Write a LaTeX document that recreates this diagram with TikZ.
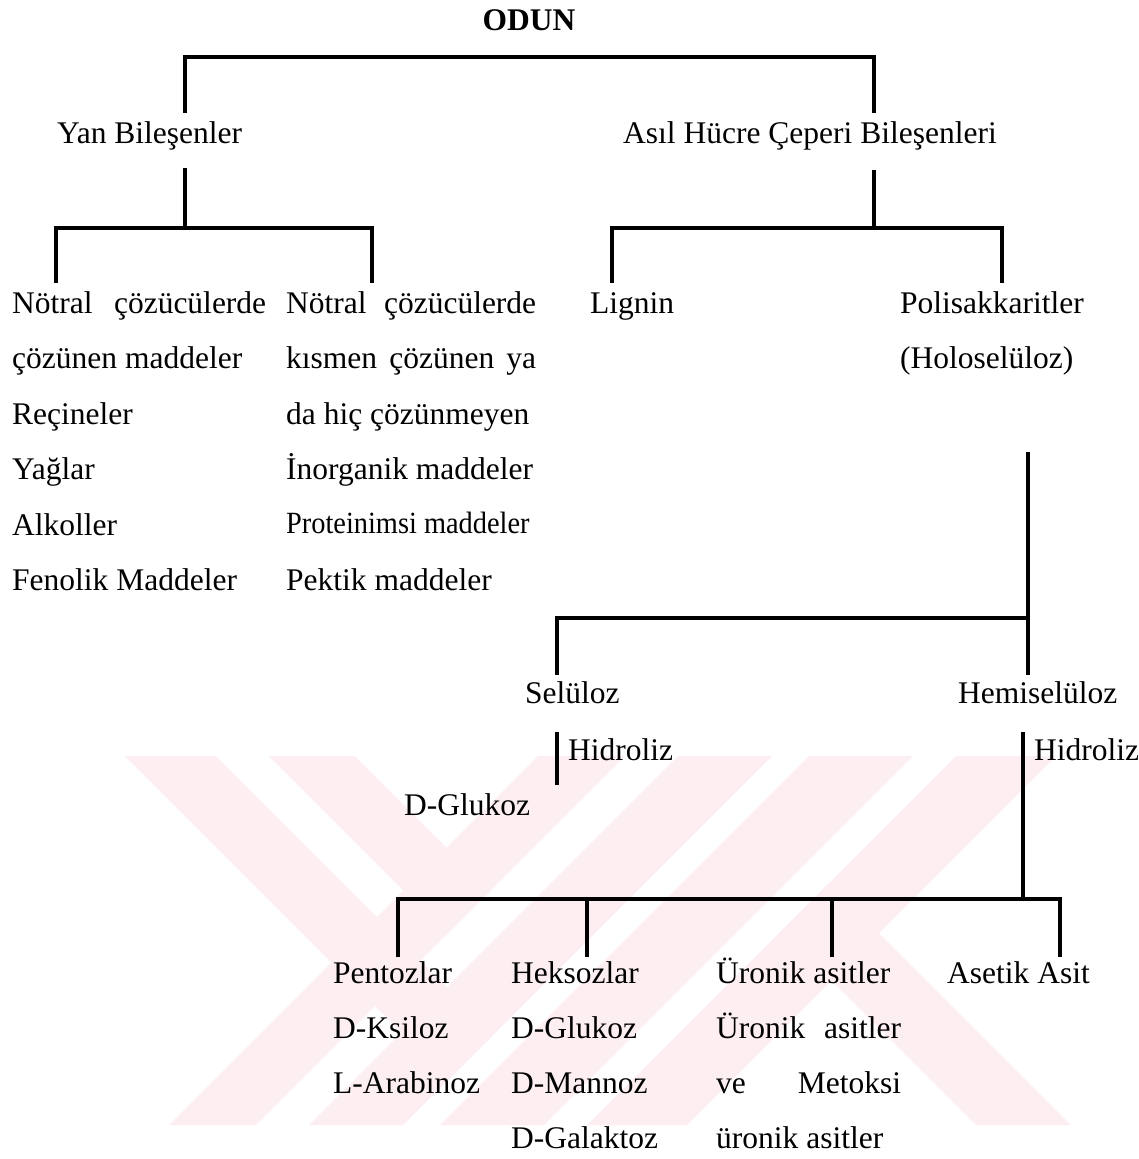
\documentclass[tikz,border=0pt]{standalone}
\usepackage{fontspec}
\setmainfont{Liberation Serif}
\newcommand\lblfont{\fontsize{31.5}{36}\selectfont}
\definecolor{wmpink}{RGB}{253,238,241}
\begin{document}
\begin{tikzpicture}[x=1pt,y=-1pt,
  lbl/.style={anchor=base west, inner sep=0pt, font=\lblfont},
  ttl/.style={anchor=base, inner sep=0pt, font=\lblfont\bfseries},
  ln/.style={line width=4.2pt},
  lnthin/.style={line width=3.4pt}]
\useasboundingbox (0,0) rectangle (1139,1159);
\fill[white] (0,0) rectangle (1139,1159);
% watermark
\begin{scope}
\clip (0,756) rectangle (1139,1125);
\fill[wmpink] (538,756) -- (625,756) -- (256,1125) -- (169,1125) -- cycle;
\fill[wmpink] (678,756) -- (772,756) -- (403,1125) -- (309,1125) -- cycle;
\fill[wmpink] (809,756) -- (913,756) -- (544,1125) -- (440,1125) -- cycle;
\fill[wmpink] (956,756) -- (1056,756) -- (687,1125) -- (587,1125) -- cycle;
\fill[wmpink] (125,756) -- (216,756) -- (494,1034) -- (448.5,1079.5) -- cycle;
\fill[wmpink] (269,756) -- (355,756) -- (490,891) -- (447,934) -- cycle;
\fill[wmpink] (829,883) -- (1071,1125) -- (976,1125) -- (781.5,930.5) -- cycle;
\end{scope}

% labels
\node[ttl] (odun) at (529,30) {ODUN};
\node[lbl] (yan) at (57,143) {Yan Bileşenler};
\node[lbl] (asil) at (623,143) {Asıl Hücre Çeperi Bileşenleri};

\node[lbl] (c1a) at (12,313) {\makebox[254pt][s]{Nötral çözücülerde}};
\node[lbl] (c1b) at (12,368.5) {çözünen maddeler};
\node[lbl] (c1c) at (12,424) {Reçineler};
\node[lbl] (c1d) at (12,479.5) {Yağlar};
\node[lbl] (c1e) at (12,535) {Alkoller};
\node[lbl] (c1f) at (12,590.5) {Fenolik Maddeler};

\node[lbl] (c2a) at (286,313) {\makebox[250pt][s]{Nötral çözücülerde}};
\node[lbl] (c2b) at (286,368.5) {\makebox[250pt][s]{kısmen çözünen ya}};
\node[lbl] (c2c) at (286,424) {da hiç çözünmeyen};
\node[lbl] (c2d) at (286,479.5) {İnorganik maddeler};
\node[lbl] (c2e) at (286,533) {\scalebox{0.9}[0.98]{Proteinimsi maddeler}};
\node[lbl] (c2f) at (286,590.5) {Pektik maddeler};

\node[lbl] (lignin) at (590,313) {Lignin};
\node[lbl] (poli) at (900,313) {Polisakkaritler};
\node[lbl] (holo) at (900,368.5) {(Holoselüloz)};

\node[lbl] (sel) at (525,703) {Selüloz};
\node[lbl] (hemi) at (958,703) {Hemiselüloz};
\node[lbl] (hid1) at (568,760) {Hidroliz};
\node[lbl] (hid2) at (1034,760) {Hidroliz};
\node[lbl] (dglu) at (404,815) {D-Glukoz};

\node[lbl] (pen) at (333,983) {Pentozlar};
\node[lbl] (pen2) at (333,1038) {D-Ksiloz};
\node[lbl] (pen3) at (333,1093) {L-Arabinoz};
\node[lbl] (hek) at (511,983) {Heksozlar};
\node[lbl] (hek2) at (511,1038) {D-Glukoz};
\node[lbl] (hek3) at (511,1093) {D-Mannoz};
\node[lbl] (hek4) at (511,1148) {D-Galaktoz};
\node[lbl] (uro) at (716,983) {Üronik asitler};
\node[lbl] (uro2) at (716,1038) {\makebox[185pt][s]{Üronik asitler}};
\node[lbl] (uro3) at (716,1093) {\makebox[185pt][s]{ve Metoksi}};
\node[lbl] (uro4) at (716,1148) {üronik asitler};
\node[lbl] (ase) at (947,983) {Asetik Asit};

% connector coordinates
\coordinate (tY) at (185,113);
\coordinate (tA) at (874,113);
\coordinate (tTop) at (529,57);
\coordinate (yb) at (185,168);
\coordinate (ybar) at (185,228);
\coordinate (yl) at (56,283);
\coordinate (yr) at (372,283);
\coordinate (ab) at (874,170);
\coordinate (abar) at (874,228);
\coordinate (al) at (612,283);
\coordinate (ar) at (1002,283);
\coordinate (pb) at (1028,452);
\coordinate (pbar) at (1028,618);
\coordinate (sl) at (557,675);
\coordinate (hm) at (1028,675);
\coordinate (h1a) at (557,732);
\coordinate (h1b) at (557,785);
\coordinate (h2a) at (1023,732);
\coordinate (h2bar) at (1023,899);
\coordinate (d1) at (398,957);
\coordinate (d2) at (587,957);
\coordinate (d3) at (832,957);
\coordinate (d4) at (1060,957);

% connectors
\draw[ln] (tY) |- (tTop) -| (tA);
\draw[ln] (yl) |- (ybar) -| (yr);
\draw[ln] (ybar) -- (yb);
\draw[ln] (al) |- (abar) -| (ar);
\draw[ln] (abar) -- (ab);
\draw[ln] (pb) -- (hm);
\draw[ln] (pbar) -| (sl);
\draw[lnthin] (h1a) -- (h1b);
\draw[lnthin] (h2a) -- (h2bar);
\draw[ln] (d1) |- (h2bar) -| (d4);
\draw[ln] (d2) -- (d2 |- h2bar);
\draw[ln] (d3) -- (d3 |- h2bar);
\end{tikzpicture}
\end{document}
